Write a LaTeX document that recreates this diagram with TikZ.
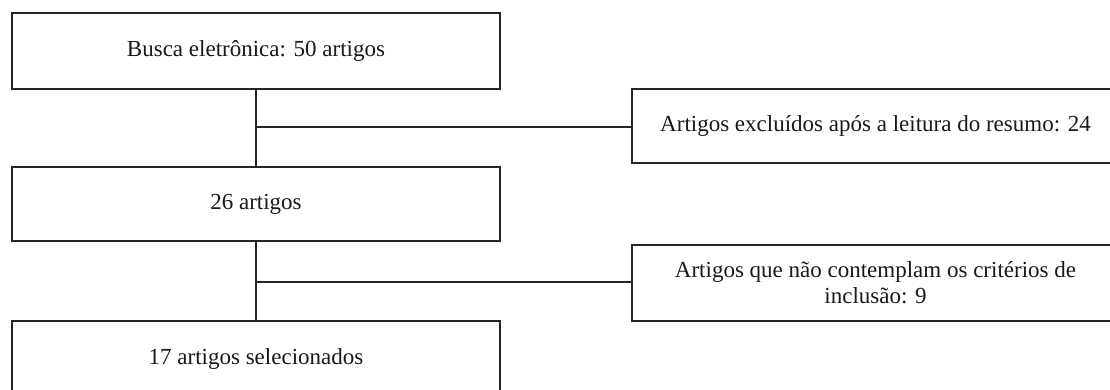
\documentclass[tikz,border=0pt]{standalone}
\usepackage{fontspec}
\setmainfont{Liberation Serif}
\begin{document}
\begin{tikzpicture}[x=1pt,y=-1pt,
  box/.style={draw=black!85,line width=1.6pt,rectangle,inner sep=0pt,
    font=\fontsize{23}{26}\selectfont,align=center,text=black!90},
  link/.style={draw=black!85,line width=1.6pt}]
\useasboundingbox[fill=white] (0,0) rectangle (1110,390);
\node[box,minimum width=488pt,minimum height=76pt] (b1) at (256,51) {Busca eletrônica: 50 artigos};
\node[box,minimum width=488pt,minimum height=74pt] (b2) at (256,204) {26 artigos};
\node[box,minimum width=488pt,minimum height=76pt] (b3) at (256,359) {17 artigos selecionados};
\node[box,minimum width=487pt,minimum height=74pt] (r1) at (875.5,126) {Artigos excluídos após a leitura do resumo: 24};
\node[box,minimum width=487pt,minimum height=76pt] (r2) at (875.5,283) {Artigos que não contemplam os critérios de\\inclusão: 9};
\coordinate (j1) at (256,127);
\coordinate (j2) at (256,282);
\draw[link] (b1.south) -- (b2.north);
\draw[link] (b2.south) -- (b3.north);
\draw[link] (j1) -- (j1 -| r1.west);
\draw[link] (j2) -- (j2 -| r2.west);
\end{tikzpicture}
\end{document}
